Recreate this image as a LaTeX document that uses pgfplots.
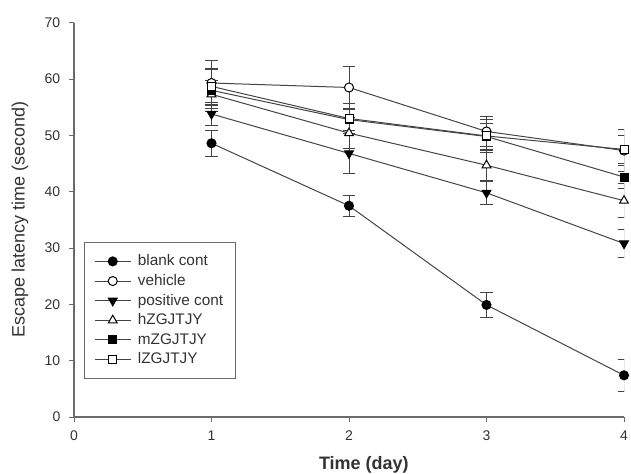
\documentclass[border=0pt]{standalone}
\usepackage{fontspec}
\setmainfont{Liberation Sans}
\usepackage{pgfplots}
\usepackage{pgfplotstable}
\pgfplotsset{compat=1.18}

\definecolor{lincol}{HTML}{444444}
\definecolor{axcol}{HTML}{6A6A6A}
\definecolor{txtcol}{HTML}{333333}

% day, mean and error (s) for each group
\pgfplotstableread{
day blank eblank veh eveh pos epos h eh m em l el
1 48.6 2.3 59.3 4.0 53.8 2.0 57.3 2.5 58.0 3.8 58.7 3.2
2 37.5 1.9 58.5 3.8 46.8 3.5 50.4 2.8 52.8 2.0 53.0 2.7
3 19.9 2.3 50.7 2.6 39.8 2.1 44.7 2.7 49.8 2.3 49.9 3.0
4 7.4 2.9 47.3 3.7 30.8 2.5 38.4 3.0 42.6 2.0 47.5 2.5
}\latency

\begin{document}
\begin{tikzpicture}[execute at end picture={%
    \pgfresetboundingbox
    \path ([shift={(-55.5pt,-42.75pt)}]current axis.south west)
      rectangle ([shift={(417.75pt,312.75pt)}]current axis.south west);}]
\begin{axis}[
    scale only axis,
    width=412.5pt, height=295.7pt,
    xmin=0, xmax=4, ymin=0, ymax=70,
    xtick={0,1,2,3,4}, ytick={0,10,...,70},
    axis lines=left,
    axis line style={-, color=axcol, line width=0.8pt},
    tick align=outside,
    major tick length=3.75pt,
    tick style={color=axcol, line width=0.7pt},
    /pgf/number format/assume math mode=true,
    ticklabel style={font=\fontsize{10.5}{12}\selectfont, text=txtcol},
    xticklabel style={yshift=-3pt},
    yticklabel style={xshift=-3pt},
    xlabel={\bfseries Time (day)},
    ylabel={Escape latency time (second)},
    xlabel style={font=\fontsize{13.5}{15}\selectfont, text=txtcol, inner sep=0pt,
        at={(axis description cs:0.527,-0.099)}, anchor=north},
    ylabel style={font=\fontsize{13.5}{15}\selectfont, text=txtcol, inner sep=0pt,
        at={(axis description cs:-0.0982,0.5)}, anchor=center},
    legend style={at={(0.019,0.4446)}, anchor=north west,
        draw=axcol, line width=0.7pt,
        font=\fontsize{11.5}{13}\selectfont, text=txtcol,
        row sep=0.9pt, inner xsep=7pt, inner ysep=7.5pt,
        /tikz/every odd column/.append style={column sep=3pt}},
    legend cell align=left,
    legend image code/.code={%
        \draw[mark repeat=2, mark phase=2] plot coordinates {(0pt,0pt) (13.5pt,0pt) (27pt,0pt)};},
    every axis plot/.append style={color=lincol, line width=0.75pt,
        mark options={solid, draw=black, line width=0.6pt}},
    error bars/error bar style={color=lincol, line width=0.6pt},
    error bars/error mark options={rotate=90, mark size=4.8pt, line width=0.6pt, draw=lincol},
]
\addplot[color=lincol, mark=*, mark size=3.4pt, mark options={draw=black, fill=black},
    error bars/.cd, y dir=both, y explicit]
    table[x=day, y=blank, y error=eblank] {\latency};
\addlegendentry{blank cont}
\addplot[color=lincol, mark=*, mark size=3.4pt, mark options={draw=black, fill=white},
    error bars/.cd, y dir=both, y explicit]
    table[x=day, y=veh, y error=eveh] {\latency};
\addlegendentry{vehicle}
\addplot[color=lincol, mark=triangle*, mark size=3.8pt, mark options={draw=black, fill=black, rotate=180},
    error bars/.cd, y dir=both, y explicit]
    table[x=day, y=pos, y error=epos] {\latency};
\addlegendentry{positive cont}
\addplot[color=lincol, mark=triangle*, mark size=3.8pt, mark options={draw=black, fill=white},
    error bars/.cd, y dir=both, y explicit]
    table[x=day, y=h, y error=eh] {\latency};
\addlegendentry{hZGJTJY}
\addplot[color=lincol, mark=square*, mark size=3pt, mark options={draw=black, fill=black},
    error bars/.cd, y dir=both, y explicit]
    table[x=day, y=m, y error=em] {\latency};
\addlegendentry{mZGJTJY}
\addplot[color=lincol, mark=square*, mark size=3pt, mark options={draw=black, fill=white},
    error bars/.cd, y dir=both, y explicit]
    table[x=day, y=l, y error=el] {\latency};
\addlegendentry{lZGJTJY}
\end{axis}
\end{tikzpicture}
\end{document}
